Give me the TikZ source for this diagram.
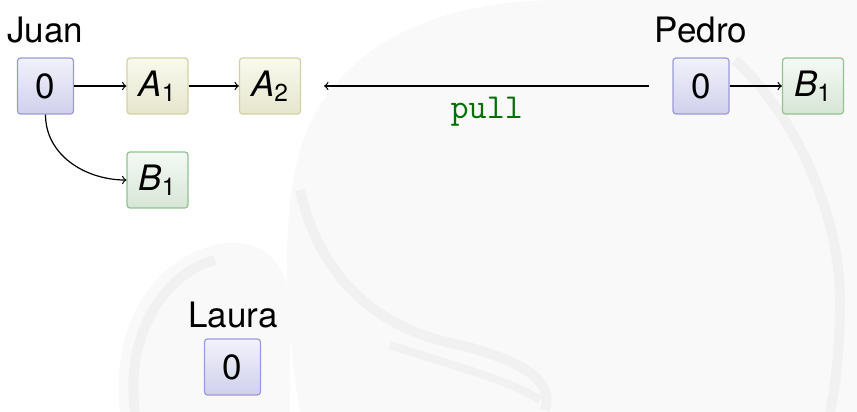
\documentclass[tikz,border=0pt]{standalone}
\usepackage{fontspec}
\setmainfont{TeX Gyre Heros}
\definecolor{bbord}{HTML}{9A9AD8}
\definecolor{btop}{HTML}{F2F2FB}
\definecolor{bbot}{HTML}{D0D0EC}
\definecolor{ybord}{HTML}{D2D2A6}
\definecolor{ytop}{HTML}{F9F9EE}
\definecolor{ybot}{HTML}{E6E6CE}
\definecolor{gbord}{HTML}{92C292}
\definecolor{gtop}{HTML}{F5F9F5}
\definecolor{gbot}{HTML}{D6E6D6}
\definecolor{pullgreen}{HTML}{007000}
\definecolor{wm}{HTML}{F9F9F9}
\definecolor{wmline}{HTML}{F1F1F1}
\tikzset{
  base/.style={rectangle, rounded corners=1.5pt, line width=0.6pt, inner sep=0pt,
    minimum height=28pt, font=\fontsize{17.5}{20}\selectfont},
  zero/.style={base, draw=bbord, top color=btop, bottom color=bbot, minimum width=28pt},
  acom/.style={base, draw=ybord, top color=ytop, bottom color=ybot, minimum width=30.5pt},
  bcom/.style={base, draw=gbord, top color=gtop, bottom color=gbot, minimum width=30.5pt},
  who/.style={anchor=base, inner sep=0pt, font=\fontsize{17.5}{20}\selectfont},
  conn/.style={-to, line width=0.6pt},
}
\begin{document}
\begin{tikzpicture}[x=0.5pt, y=-0.5pt]
\useasboundingbox (0,0) rectangle (857,412);
% faint background watermark
\fill[wm] (300,412) .. controls (285,330) and (280,220) .. (300,150)
  .. controls (330,50) and (430,0) .. (560,0) -- (857,0) -- (857,412) -- cycle;
\draw[wmline, line width=5pt] (300,190) .. controls (320,280) and (380,330) .. (460,345)
  .. controls (520,360) and (555,380) .. (545,410);
\draw[wmline, line width=5pt] (735,60) .. controls (800,120) and (840,220) .. (840,300)
  .. controls (840,350) and (835,390) .. (830,412);
\draw[wmline, line width=4pt] (390,345) .. controls (450,365) and (510,380) .. (540,400);
\fill[wm] (120,412) .. controls (110,330) and (150,260) .. (215,245)
  .. controls (260,235) and (285,260) .. (290,300) -- (290,412) -- cycle;
\draw[wmline, line width=5pt] (135,412) .. controls (125,340) and (160,275) .. (215,260);
% nodes
\node[zero] (J0) at (45.5,86) {0};
\node[acom] (A1) at (157.5,86) {{\itshape A}\textsubscript{1}};
\node[acom] (A2) at (270,86) {{\itshape A}\textsubscript{2}};
\node[bcom] (JB1) at (157.5,180) {{\itshape B}\textsubscript{1}};
\node[zero] (P0) at (701,86) {0};
\node[bcom] (PB1) at (813,86) {{\itshape B}\textsubscript{1}};
\node[zero] (L0) at (232.5,367) {0};
\node[who] (Jlab) at (45,42) {Juan};
\node[who] (Plab) at (701,42) {Pedro};
\node[who] (Llab) at (233,327) {Laura};
% connectors
\draw[conn] (J0) -- (A1);
\draw[conn] (A1) -- (A2);
\draw[conn] (J0.south) to[out=-90, in=180] (JB1.west);
\draw[conn] (P0) -- (PB1);
\draw[conn, shorten >=11.5pt, shorten <=11.5pt] (P0.west) -- (A2.east)
  node[midway, anchor=base, yshift=-16pt, inner sep=0pt, text=pullgreen,
       font=\fontsize{17.5}{20}\selectfont\ttfamily] (pull) {pull};
\end{tikzpicture}
\end{document}
